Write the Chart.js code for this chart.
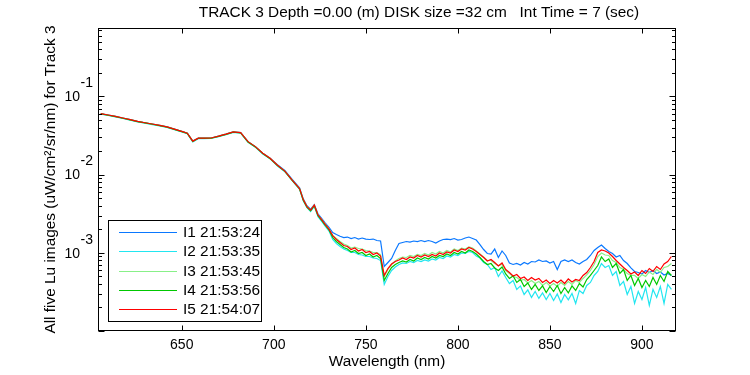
<!DOCTYPE html>
<html><head><meta charset="utf-8">
<script src="https://cdn.jsdelivr.net/npm/chart.js@4/dist/chart.umd.min.js"></script>
<style>html,body{margin:0;padding:0;background:#fff}canvas{display:block}</style>
</head><body>
<canvas id="c" width="750" height="375"></canvas>
<script>
const titleText = 'TRACK 3 Depth =0.00 (m) DISK size =32 cm   Int Time = 7 (sec)';
const xAxisLabel = 'Wavelength (nm)';
const yAxisLabel = 'All five Lu images (uW/cm²/sr/nm) for Track 3';
const seriesLabels = ['I1 21:53:24','I2 21:53:35','I3 21:53:45','I4 21:53:56','I5 21:54:07'];
const xTickValues = [650,700,750,800,850,900];
const yTickValues = [1e-3,1e-2,1e-1];
const yTickBase = ['10','10','10'];
const yTickExponents = ['-3','-2','-1'];

const wavelengths = [606,610,614,618,622,626,630,634,638,642,646,650,653,656,659,662,666,670,674,678,682,686,690,694,698,702,706,710,714,
716,718,720,722,724,726,728,730,732,734,736,738,740,742,744,746,748,750,752,754,756,758,760,762,764,766,768,770,772,774,776,778,780,
782,784,786,788,790,792,794,796,798,800,802,804,806,808,810,812,814,816,818,820,822,824,826,828,830,832,834,836,838,840,842,844,846,
848,850,852,854,856,858,860,862,864,866,868,870,872,874,876,878,880,882,884,886,888,890,892,894,896,898,900,902,904,906,908,910,912,914,916];

const I1 = [0.0601,0.0579,0.0555,0.0530,0.0504,0.0479,0.0461,0.0444,0.0426,0.0407,0.0381,0.0357,0.0339,0.0268,0.0293,0.0293,0.0294,0.0310,0.0329,0.0351,0.0344,0.0264,0.0228,0.0188,0.0162,0.0134,0.0113,0.00872,0.00680,
0.00490,0.00400,0.00362,0.00412,0.00315,0.00276,0.00240,0.00212,
1.817e-3,1.713e-3,1.629e-3,1.568e-3,1.591e-3,1.523e-3,1.568e-3,1.500e-3,1.545e-3,1.500e-3,1.479e-3,1.500e-3,1.436e-3,1.415e-3,
0.668e-3,0.752e-3,0.846e-3,1.070e-3,1.315e-3,1.354e-3,1.394e-3,1.374e-3,1.415e-3,1.394e-3,1.436e-3,1.394e-3,1.436e-3,1.394e-3,1.334e-3,
1.415e-3,1.479e-3,1.500e-3,1.479e-3,1.523e-3,1.457e-3,1.479e-3,1.545e-3,1.591e-3,1.523e-3,1.457e-3,1.276e-3,1.102e-3,0.980e-3,0.965e-3,
1.118e-3,0.871e-3,1.055e-3,0.924e-3,0.741e-3,0.709e-3,0.730e-3,0.699e-3,0.752e-3,0.719e-3,0.774e-3,0.763e-3,0.809e-3,0.774e-3,0.786e-3,
0.741e-3,0.774e-3,0.612e-3,0.774e-3,0.809e-3,0.774e-3,0.809e-3,0.752e-3,0.719e-3,0.774e-3,0.821e-3,0.924e-3,1.070e-3,1.169e-3,1.258e-3,
1.135e-3,1.039e-3,0.980e-3,0.884e-3,0.924e-3,0.797e-3,0.730e-3,0.640e-3,0.577e-3,0.560e-3,0.536e-3,0.594e-3,0.560e-3,0.594e-3,0.544e-3,
0.569e-3,0.521e-3,0.544e-3,0.513e-3];

const I2 = [0.0592,0.0570,0.0547,0.0522,0.0497,0.0472,0.0454,0.0437,0.0420,0.0401,0.0375,0.0352,0.0334,0.0262,0.0288,0.0289,0.0290,0.0305,0.0324,0.0346,0.0339,0.0259,0.0224,0.0184,0.0159,0.0129,0.0109,0.00835,0.00650,
0.00462,0.00378,0.00338,0.00392,0.00290,0.00253,0.00218,0.00190,
1.479e-3,1.315e-3,1.204e-3,1.118e-3,1.070e-3,1.009e-3,1.009e-3,0.951e-3,0.937e-3,0.897e-3,0.897e-3,0.858e-3,0.846e-3,0.797e-3,
0.394e-3,0.498e-3,0.594e-3,0.659e-3,0.709e-3,0.741e-3,0.730e-3,0.774e-3,0.752e-3,0.797e-3,0.774e-3,0.809e-3,0.786e-3,0.834e-3,0.809e-3,
0.871e-3,0.846e-3,0.910e-3,0.884e-3,0.951e-3,0.924e-3,0.994e-3,0.980e-3,1.039e-3,1.009e-3,0.910e-3,0.858e-3,0.752e-3,0.709e-3,0.612e-3,
0.649e-3,0.498e-3,0.586e-3,0.484e-3,0.405e-3,0.443e-3,0.340e-3,0.377e-3,0.293e-3,0.335e-3,0.269e-3,0.320e-3,0.261e-3,0.307e-3,0.253e-3,
0.302e-3,0.246e-3,0.298e-3,0.232e-3,0.293e-3,0.250e-3,0.302e-3,0.225e-3,0.330e-3,0.302e-3,0.382e-3,0.418e-3,0.513e-3,0.577e-3,0.730e-3,
0.649e-3,0.688e-3,0.513e-3,0.577e-3,0.382e-3,0.430e-3,0.293e-3,0.371e-3,0.225e-3,0.320e-3,0.253e-3,0.360e-3,0.212e-3,0.340e-3,0.269e-3,
0.371e-3,0.225e-3,0.394e-3,0.340e-3];

const I3 = [0.0601,0.0579,0.0555,0.0530,0.0504,0.0479,0.0461,0.0444,0.0426,0.0407,0.0381,0.0357,0.0339,0.0268,0.0293,0.0293,0.0294,0.0310,0.0329,0.0351,0.0344,0.0264,0.0228,0.0188,0.0162,0.0132,0.0111,0.00851,0.00663,
0.00482,0.00393,0.00355,0.00410,0.00306,0.00268,0.00232,0.00203,
1.663e-3,1.523e-3,1.394e-3,1.295e-3,1.240e-3,1.151e-3,1.186e-3,1.135e-3,1.118e-3,1.070e-3,1.055e-3,1.009e-3,1.009e-3,0.951e-3,
0.498e-3,0.612e-3,0.709e-3,0.786e-3,0.846e-3,0.884e-3,0.871e-3,0.924e-3,0.897e-3,0.951e-3,0.924e-3,0.980e-3,0.937e-3,1.009e-3,0.965e-3,
1.039e-3,0.994e-3,1.070e-3,1.024e-3,1.118e-3,1.070e-3,1.151e-3,1.118e-3,1.186e-3,1.151e-3,1.055e-3,0.965e-3,0.884e-3,0.797e-3,0.797e-3,
0.730e-3,0.688e-3,0.709e-3,0.594e-3,0.544e-3,0.498e-3,0.484e-3,0.443e-3,0.456e-3,0.411e-3,0.443e-3,0.405e-3,0.430e-3,0.382e-3,0.418e-3,
0.377e-3,0.405e-3,0.371e-3,0.418e-3,0.382e-3,0.430e-3,0.394e-3,0.443e-3,0.418e-3,0.470e-3,0.521e-3,0.594e-3,0.709e-3,0.897e-3,0.994e-3,
0.937e-3,0.924e-3,0.797e-3,0.752e-3,0.649e-3,0.612e-3,0.544e-3,0.513e-3,0.513e-3,0.470e-3,0.528e-3,0.498e-3,0.569e-3,0.528e-3,0.612e-3,
0.560e-3,0.649e-3,0.668e-3,0.730e-3];

const I4 = [0.0598,0.0574,0.0552,0.0526,0.0501,0.0476,0.0458,0.0441,0.0423,0.0404,0.0379,0.0355,0.0337,0.0265,0.0291,0.0291,0.0292,0.0308,0.0327,0.0349,0.0341,0.0261,0.0226,0.0186,0.0160,0.0131,0.0110,0.00843,0.00656,
0.00470,0.00385,0.00345,0.00400,0.00298,0.00260,0.00224,0.00196,
1.568e-3,1.394e-3,1.276e-3,1.169e-3,1.118e-3,1.024e-3,1.070e-3,0.980e-3,1.009e-3,0.924e-3,0.965e-3,0.884e-3,0.924e-3,0.846e-3,
0.443e-3,0.544e-3,0.649e-3,0.709e-3,0.752e-3,0.786e-3,0.763e-3,0.821e-3,0.786e-3,0.858e-3,0.821e-3,0.871e-3,0.834e-3,0.897e-3,0.858e-3,
0.924e-3,0.897e-3,0.965e-3,0.924e-3,1.009e-3,0.965e-3,1.039e-3,0.994e-3,1.086e-3,1.039e-3,0.965e-3,0.871e-3,0.774e-3,0.709e-3,0.730e-3,
0.640e-3,0.594e-3,0.659e-3,0.536e-3,0.470e-3,0.506e-3,0.418e-3,0.456e-3,0.371e-3,0.411e-3,0.340e-3,0.394e-3,0.330e-3,0.377e-3,0.311e-3,
0.371e-3,0.320e-3,0.382e-3,0.302e-3,0.360e-3,0.307e-3,0.377e-3,0.330e-3,0.405e-3,0.366e-3,0.456e-3,0.513e-3,0.594e-3,0.688e-3,0.884e-3,
0.774e-3,0.834e-3,0.649e-3,0.730e-3,0.544e-3,0.612e-3,0.443e-3,0.513e-3,0.382e-3,0.470e-3,0.360e-3,0.443e-3,0.371e-3,0.484e-3,0.394e-3,
0.513e-3,0.430e-3,0.577e-3,0.513e-3];

const I5 = [0.0601,0.0579,0.0555,0.0530,0.0504,0.0479,0.0461,0.0444,0.0426,0.0407,0.0381,0.0357,0.0339,0.0268,0.0293,0.0293,0.0294,0.0310,0.0329,0.0351,0.0344,0.0264,0.0228,0.0188,0.0162,0.0132,0.0111,0.00851,0.00663,
0.00479,0.00390,0.00352,0.00408,0.00304,0.00266,0.00230,0.00201,
1.663e-3,1.479e-3,1.354e-3,1.240e-3,1.204e-3,1.102e-3,1.151e-3,1.055e-3,1.102e-3,1.009e-3,1.039e-3,0.951e-3,0.994e-3,0.910e-3,
0.513e-3,0.630e-3,0.719e-3,0.774e-3,0.809e-3,0.858e-3,0.821e-3,0.884e-3,0.858e-3,0.924e-3,0.884e-3,0.937e-3,0.897e-3,0.951e-3,0.910e-3,
0.994e-3,0.951e-3,1.024e-3,0.994e-3,1.086e-3,1.039e-3,1.118e-3,1.086e-3,1.169e-3,1.118e-3,1.039e-3,0.951e-3,0.871e-3,0.786e-3,0.821e-3,
0.752e-3,0.678e-3,0.741e-3,0.612e-3,0.560e-3,0.506e-3,0.528e-3,0.470e-3,0.491e-3,0.443e-3,0.484e-3,0.449e-3,0.470e-3,0.418e-3,0.449e-3,
0.405e-3,0.443e-3,0.411e-3,0.449e-3,0.405e-3,0.463e-3,0.424e-3,0.456e-3,0.443e-3,0.513e-3,0.560e-3,0.649e-3,0.774e-3,1.009e-3,1.086e-3,
1.055e-3,0.994e-3,0.897e-3,0.797e-3,0.719e-3,0.649e-3,0.594e-3,0.536e-3,0.569e-3,0.513e-3,0.594e-3,0.544e-3,0.630e-3,0.577e-3,0.668e-3,
0.612e-3,0.719e-3,0.774e-3,0.897e-3];

const seriesValues = [I1, I2, I3, I4, I5];
const seriesColors = ['#0a78ff', '#22e6f0', '#88f088', '#00c800', '#ff0000'];
const FONT = '"Liberation Sans", Arial, sans-serif';

const datasets = seriesValues.map((vals, i) => ({
  label: seriesLabels[i],
  data: wavelengths.map((w, j) => ({x: w, y: vals[j]})),
  borderColor: seriesColors[i],
  backgroundColor: seriesColors[i],
  borderWidth: 1.2,
  pointRadius: 0,
  tension: 0,
  fill: false,
  order: seriesValues.length - i
}));

const framePlugin = {
  id: 'frame',
  afterDraw(chart) {
    const {ctx, chartArea: a, scales: {x, y}} = chart;
    ctx.save();
    ctx.strokeStyle = '#000';
    ctx.lineWidth = 1;
    const L = Math.round(a.left) + 0.5, R = Math.round(a.right) - 0.5;
    const T = Math.round(a.top) + 0.5, B = Math.round(a.bottom) - 0.5;
    ctx.strokeRect(L, T, R - L, B - T);
    ctx.beginPath();
    xTickValues.forEach(v => {
      const px = Math.round(x.getPixelForValue(v)) + 0.5;
      ctx.moveTo(px, B); ctx.lineTo(px, B - 5);
      ctx.moveTo(px, T); ctx.lineTo(px, T + 5);
    });
    for (let e = -4; e <= 0; e++) {
      for (let m = 1; m <= 9; m++) {
        const v = m * Math.pow(10, e);
        if (v < y.min || v > y.max) continue;
        const py = Math.round(y.getPixelForValue(v)) + 0.5;
        const len = m === 1 ? 6 : 3.5;
        ctx.moveTo(L, py); ctx.lineTo(L + len, py);
        ctx.moveTo(R, py); ctx.lineTo(R - len, py);
      }
    }
    ctx.stroke();

    // y tick labels 10^n
    ctx.fillStyle = '#000';
    ctx.textBaseline = 'middle';
    yTickValues.forEach((v, i) => {
      const py = y.getPixelForValue(v);
      ctx.font = '14px ' + FONT;
      ctx.textAlign = 'right';
      ctx.fillText(yTickBase[i], 80, py + 1);
      ctx.textAlign = 'left';
      ctx.fillText(yTickExponents[i], 80.5, py - 13);
    });

    // title
    ctx.font = '15.4px ' + FONT;
    ctx.textAlign = 'center';
    ctx.fillText(titleText, 419, 13);

    // legend
    const bx = 108.5, by = 220.5, bw = 153, bh = 101;
    ctx.fillStyle = '#fff';
    ctx.fillRect(bx, by, bw, bh);
    ctx.strokeStyle = '#000';
    ctx.strokeRect(bx, by, bw, bh);
    ctx.font = '15.4px ' + FONT;
    ctx.textAlign = 'left';
    chart.data.datasets.forEach((ds, i) => {
      const ly = Math.round(232 + i * 19.25) + 0.5;
      ctx.strokeStyle = ds.borderColor;
      ctx.lineWidth = 1;
      ctx.beginPath(); ctx.moveTo(119, ly); ctx.lineTo(177, ly); ctx.stroke();
      ctx.fillStyle = '#000';
      ctx.fillText(ds.label, 183, ly);
    });
    ctx.restore();
  }
};

new Chart(document.getElementById('c'), {
  type: 'line',
  data: {datasets},
  options: {
    responsive: false,
    animation: false,
    devicePixelRatio: 1,
    layout: {padding: {left: 0, right: 74, top: 28, bottom: 0}},
    plugins: {legend: {display: false}, title: {display: false}, tooltip: {enabled: false}},
    scales: {
      x: {
        type: 'linear', min: 604.5, max: 918.5,
        afterBuildTicks: s => { s.ticks = xTickValues.map(v => ({value: v})); },
        afterFit: s => { s.height = 44; },
        grid: {display: false, drawTicks: false},
        border: {display: false},
        ticks: {color: '#000', font: {family: FONT, size: 14}, padding: 6, maxRotation: 0, autoSkip: false},
        title: {display: true, text: xAxisLabel, color: '#000', font: {family: FONT, size: 15.4}, padding: {top: 0, bottom: 4}}
      },
      y: {
        type: 'logarithmic', min: 1e-4, max: 0.75,
        afterFit: s => { s.width = 98; },
        ticks: {display: false},
        grid: {display: false},
        border: {display: false},
        title: {display: true, text: yAxisLabel, color: '#000', font: {family: FONT, size: 15.4}, padding: {top: 42, bottom: 0}}
      }
    }
  },
  plugins: [framePlugin]
});
</script>
</body></html>
